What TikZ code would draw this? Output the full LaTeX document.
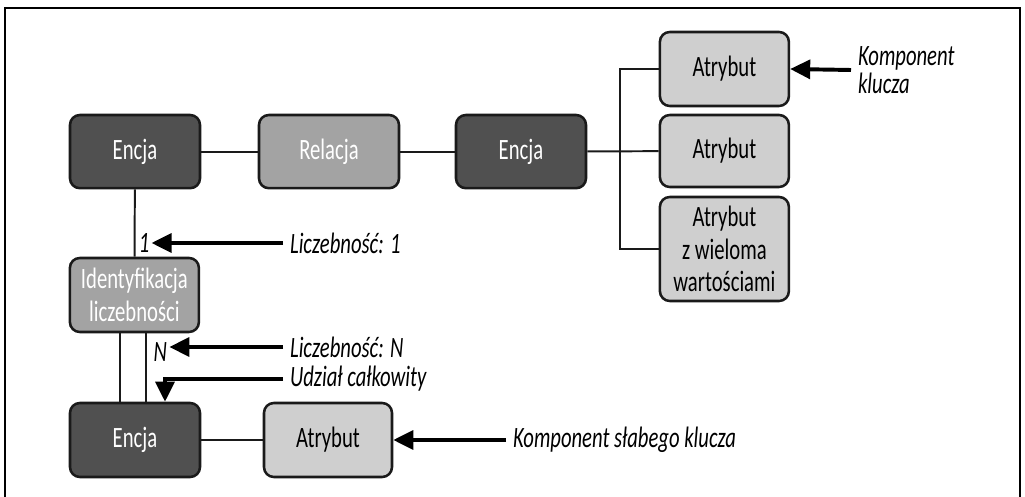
\documentclass[tikz,border=0pt]{standalone}
\usepackage{fontspec}
\usepackage{tikz}
\setmainfont{Carlito}[FakeStretch=0.7]
\definecolor{entity}{HTML}{505050}
\definecolor{relation}{HTML}{A3A3A3}
\definecolor{attrib}{HTML}{CFCFCF}
\definecolor{edge}{HTML}{1A1A1A}
\usetikzlibrary{arrows.meta, calc}

\begin{document}
\begin{tikzpicture}[
  box/.style={draw=edge, line width=1.8pt, rounded corners=7pt, minimum width=3.25cm, minimum height=1.83cm, inner sep=1pt, font=\fontsize{21}{23}\selectfont, align=center},
  encja/.style={box, fill=entity, text=white},
  relacja/.style={box, fill=relation, text=white},
  atrybut/.style={box, fill=attrib, text=black},
  note/.style={anchor=west, inner sep=0.17cm, font=\fontsize{21}{22}\itshape\selectfont, align=left},
  card/.style={inner sep=0.05cm, font=\fontsize{21}{23}\itshape\selectfont},
  conn/.style={draw=edge, line width=1.4pt},
  arr/.style={-{Triangle[length=0.5cm, width=0.47cm]}, line width=2.8pt, draw=black},
]
\useasboundingbox (0,0) rectangle (25.625,-12.425);

% Frame
\draw[line width=2.1pt] (0.125,-12.425) -- (0.125,-0.2) -- (25.5,-0.2) -- (25.5,-12.425);

% Top row
\node[encja] (encA) at (3.375,-3.79) {Encja};
\node[relacja, minimum width=3.5cm] (rel) at (8.225,-3.79) {Relacja};
\node[encja] (encB) at (13.025,-3.79) {Encja};

% Attributes
\node[atrybut, minimum width=3.225cm, minimum height=1.85cm] (atr1) at (18.11,-1.725) {Atrybut};
\node[atrybut, minimum width=3.225cm, minimum height=1.8cm] (atr2) at (18.11,-3.775) {Atrybut};
\node[atrybut, minimum width=3.225cm, minimum height=2.6cm] (atr3) at (18.11,-6.225) {Atrybut\\z wieloma\\wartościami};

% Weak entity part
\node[relacja, minimum width=3.225cm, minimum height=1.85cm] (ident) at (3.36,-7.375) {Identyfikacja\\liczebności};
\node[encja, minimum height=1.85cm] (encC) at (3.375,-11.0) {Encja};
\node[atrybut, minimum width=3.2cm, minimum height=1.85cm] (atr4) at (8.2,-11.0) {Atrybut};

% Cardinalities
\node[card] (one) at (3.6,-6.075) {1};
\node[card] (many) at (4.01,-8.79) {N};

% Notes
\node[note] (kk) at (21.275,-1.75) {Komponent\\[-2pt]klucza};
\node[note] (lic1) at (7.075,-6.075) {Liczebność: 1};
\node[note] (licN) at (7.075,-8.675) {Liczebność: N};
\node[note] (udz) at (7.075,-9.475) {Udział całkowity};
\node[note] (ksk) at (12.65,-11.0) {Komponent słabego klucza};

% Connectors
\draw[conn] (encA) -- (rel);
\draw[conn] (rel) -- (encB);
\draw[conn] (encB) -- (atr2);
\draw[conn] (atr1.west) -- ++(-0.97,0) |- (atr3.west);
\draw[conn] (encA) -- (ident);
\draw[conn] ([xshift=-0.36cm]ident.south) -- ([xshift=-0.36cm]ident.south |- encC.north);
\draw[conn] ([xshift=0.29cm]ident.south) -- ([xshift=0.29cm]ident.south |- encC.north);
\draw[conn] (encC) -- (atr4);

% Arrows
\draw[arr] (kk.west) -- (atr1.east);
\draw[arr] (lic1.west) -- (lic1.west -| one.east);
\draw[arr] (licN.west) -- (licN.west -| many.east);
\draw[arr] (udz.west) -| ([xshift=0.75cm]encC.north);
\draw[arr] (ksk.west) -- (atr4.east);

\end{tikzpicture}
\end{document}
